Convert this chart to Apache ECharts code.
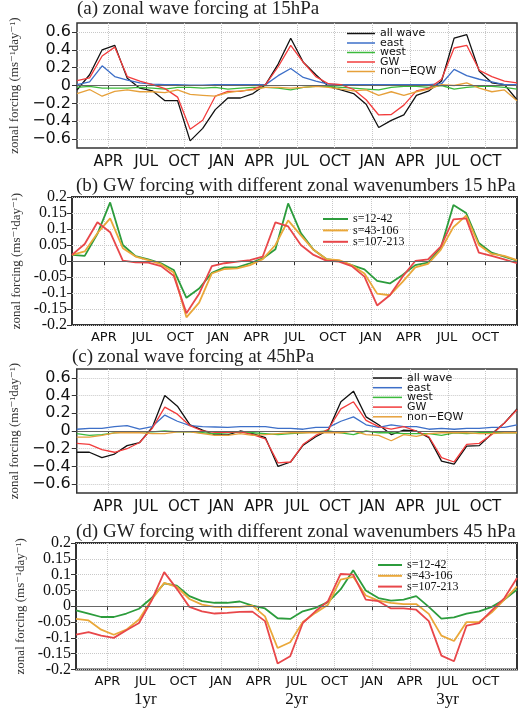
<!DOCTYPE html>
<html>
<head>
<meta charset="utf-8">
<script src="https://cdn.jsdelivr.net/npm/echarts@6/dist/echarts.min.js"></script>
<style>
  html, body { margin: 0; padding: 0; background: #fff; }
  #chart { width: 526px; height: 708px; }
</style>
</head>
<body>
<div id="chart"></div>
<script>
// month ticks (month index from Jan of year 1), data sit at mid-month
const tickMonths = [3, 6, 9, 12, 15, 18, 21, 24, 27, 30, 33]
const tickLabels = ["APR", "JUL", "OCT", "JAN", "APR", "JUL", "OCT", "JAN", "APR", "JUL", "OCT"]
const yearTicks = [6, 18, 30]
const yearLabels = ["1yr", "2yr", "3yr"]

const waveTicks = [-0.6, -0.4, -0.2, 0, 0.2, 0.4, 0.6]

// (a) zonal wave forcing at 15hPa
const a_all = [-0.05, 0.12, 0.40, 0.45, 0.08, -0.03, -0.06, -0.17, -0.17, -0.62, -0.48, -0.27, -0.14, -0.14, -0.09, 0.01, 0.24, 0.53, 0.26, 0.12, -0.01, -0.05, -0.09, -0.21, -0.47, -0.39, -0.33, -0.11, -0.06, 0.05, 0.53, 0.57, 0.16, 0.03, 0.01, -0.16]
const a_east = [0.01, 0.04, 0.22, 0.10, 0.06, 0.03, 0.015, 0.01, 0.01, 0.005, 0.005, 0.01, 0.01, 0.01, 0.01, 0.01, 0.11, 0.19, 0.09, 0.05, 0.015, 0.01, 0.01, 0.01, 0.01, 0.01, 0.01, 0.01, 0.01, 0.02, 0.18, 0.11, 0.07, 0.04, 0.01, 0.01]
const a_west = [-0.02, -0.01, -0.03, -0.03, -0.03, -0.02, -0.03, -0.04, -0.02, -0.02, -0.03, -0.02, -0.04, -0.03, -0.02, -0.02, -0.03, -0.05, -0.02, -0.01, -0.01, -0.02, -0.03, -0.04, -0.05, -0.02, -0.01, -0.01, -0.02, 0.0, -0.04, -0.02, -0.01, -0.01, -0.02, -0.04]
const a_gw = [0.055, 0.085, 0.33, 0.43, 0.10, 0.05, 0.01, -0.035, -0.13, -0.49, -0.39, -0.12, -0.065, -0.065, -0.04, 0.01, 0.21, 0.45, 0.26, 0.10, 0.02, 0.01, -0.045, -0.16, -0.33, -0.325, -0.22, -0.06, -0.03, 0.07, 0.42, 0.45, 0.17, 0.10, 0.05, 0.03]
const a_noneqw = [-0.09, -0.045, -0.12, -0.065, -0.05, -0.07, -0.07, -0.08, -0.05, -0.10, -0.11, -0.12, -0.08, -0.06, -0.05, -0.02, -0.02, -0.03, -0.02, -0.01, -0.02, -0.04, -0.06, -0.05, -0.11, -0.07, -0.11, -0.07, -0.04, 0.01, 0.0, 0.03, -0.03, -0.07, -0.05, -0.17]

// (b) GW forcing with different zonal wavenumbers 15 hPa
const b_s1 = [0.019, 0.016, 0.085, 0.183, 0.05, 0.015, 0.005, -0.007, -0.028, -0.115, -0.086, -0.037, -0.02, -0.02, -0.007, 0.008, 0.037, 0.18, 0.087, 0.035, 0.006, 0.0, -0.013, -0.026, -0.062, -0.07, -0.044, -0.013, -0.005, 0.04, 0.175, 0.15, 0.056, 0.026, 0.014, 0.001]
const b_s2 = [0.019, 0.03, 0.087, 0.133, 0.04, 0.014, 0.003, -0.01, -0.036, -0.176, -0.13, -0.039, -0.025, -0.023, -0.013, 0.006, 0.05, 0.127, 0.08, 0.035, 0.006, 0.003, -0.013, -0.039, -0.102, -0.107, -0.065, -0.02, -0.009, 0.035, 0.106, 0.142, 0.05, 0.022, 0.016, 0.003]
const b_s3 = [0.019, 0.053, 0.121, 0.09, 0.001, -0.004, -0.005, -0.016, -0.046, -0.163, -0.102, -0.016, -0.007, -0.002, 0.003, 0.014, 0.121, 0.108, 0.05, 0.019, 0.001, -0.002, -0.016, -0.049, -0.139, -0.107, -0.049, 0.0, 0.005, 0.045, 0.13, 0.133, 0.026, 0.016, 0.005, -0.007]

// (c) zonal wave forcing at 45hPa
const c_all = [-0.24, -0.24, -0.30, -0.26, -0.165, -0.13, 0.04, 0.40, 0.28, 0.07, 0.01, -0.045, -0.045, 0.0, -0.03, -0.075, -0.40, -0.35, -0.16, -0.065, 0.01, 0.33, 0.45, 0.16, 0.07, -0.04, 0.01, 0.0, -0.075, -0.34, -0.375, -0.17, -0.165, -0.03, 0.09, 0.25]
const c_east = [0.02, 0.03, 0.03, 0.05, 0.06, 0.02, 0.05, 0.18, 0.11, 0.06, 0.05, 0.045, 0.04, 0.05, 0.05, 0.05, 0.03, 0.03, 0.02, 0.04, 0.04, 0.11, 0.16, 0.07, 0.04, 0.07, 0.05, 0.05, 0.02, 0.03, 0.02, 0.03, 0.03, 0.04, 0.04, 0.07]
const c_west = [-0.03, -0.05, -0.04, -0.02, -0.01, -0.01, -0.01, 0.0, -0.01, -0.01, -0.02, -0.03, -0.02, -0.01, -0.02, -0.03, -0.04, -0.03, -0.02, -0.01, 0.0, -0.02, -0.04, 0.0, -0.02, -0.02, -0.03, -0.03, -0.03, -0.05, -0.02, -0.03, -0.02, -0.02, -0.02, -0.02]
const c_gw = [-0.14, -0.15, -0.21, -0.24, -0.20, -0.13, 0.03, 0.27, 0.19, 0.06, 0.0, -0.015, -0.015, -0.01, -0.04, -0.09, -0.36, -0.35, -0.15, -0.05, 0.02, 0.25, 0.33, 0.12, 0.05, 0.02, 0.05, 0.0, -0.065, -0.30, -0.35, -0.15, -0.14, -0.04, 0.09, 0.24]
const c_noneqw = [-0.07, -0.07, -0.05, -0.02, -0.02, -0.02, -0.03, -0.03, -0.01, -0.01, -0.03, -0.05, -0.05, -0.03, -0.05, -0.04, -0.03, -0.02, -0.02, -0.02, -0.02, -0.02, 0.0, -0.04, -0.05, -0.11, -0.04, -0.06, -0.03, -0.02, -0.02, -0.02, -0.03, -0.03, -0.02, -0.02]

// (d) GW forcing with different zonal wavenumbers 45 hPa
const d_s1 = [-0.013, -0.023, -0.034, -0.034, -0.023, -0.008, 0.026, 0.072, 0.065, 0.032, 0.016, 0.011, 0.011, 0.015, 0.002, -0.007, -0.038, -0.04, -0.016, -0.005, 0.013, 0.053, 0.114, 0.05, 0.026, 0.018, 0.021, 0.032, -0.002, -0.039, -0.035, -0.023, -0.016, -0.002, 0.021, 0.053]
const d_s2 = [-0.04, -0.045, -0.074, -0.09, -0.074, -0.042, 0.021, 0.074, 0.061, 0.023, 0.005, -0.002, -0.003, -0.002, 0.002, -0.032, -0.132, -0.114, -0.05, -0.021, 0.005, 0.084, 0.093, 0.034, 0.018, 0.011, 0.007, 0.007, -0.024, -0.093, -0.11, -0.05, -0.05, -0.019, 0.021, 0.063]
const d_s3 = [-0.09, -0.082, -0.093, -0.10, -0.076, -0.053, 0.018, 0.108, 0.055, -0.002, -0.016, -0.023, -0.021, -0.018, -0.017, -0.047, -0.181, -0.158, -0.053, -0.016, 0.016, 0.102, 0.10, 0.021, 0.016, -0.007, -0.007, -0.011, -0.047, -0.156, -0.174, -0.061, -0.053, -0.013, 0.026, 0.089]

const waveNames = ["all wave", "east", "west", "GW", "non\u2212EQW"]
const waveColors = ["#111111", "#3d6fc8", "#3cba3c", "#f23c3c", "#e6a03a"]
const sNames = ["s=12-42", "s=43-106", "s=107-213"]
const sColors = ["#2c9c3c", "#eaa83a", "#e8474a"]

const serif = "'Liberation Serif', 'DejaVu Serif', serif"
const sans = "'DejaVu Sans', sans-serif"

const grids = [
  { left: 77, top: 23, width: 440, height: 125 },
  { left: 72, top: 197, width: 445, height: 128 },
  { left: 72, top: 369, width: 445, height: 124 },
  { left: 76, top: 543, width: 441, height: 128 },
]

const toPoints = (arr) => arr.map((v, i) => [i + 0.5, v])

const zeroLine = {
  silent: true,
  symbol: "none",
  label: { show: false },
  lineStyle: { color: "#666", width: 1, type: "solid" },
  data: [{ yAxis: 0 }],
}

function xAxisFor(idx, small) {
  return {
    type: "value",
    gridIndex: idx,
    min: 0.5,
    max: 35.5,
    axisLine: { show: false },
    axisTick: {
      show: true,
      inside: false,
      length: 4,
      customValues: tickMonths,
      lineStyle: { color: "#333" },
    },
    axisLabel: {
      customValues: tickMonths,
      margin: small ? 6 : 7,
      color: "#111",
      fontFamily: sans,
      fontSize: small ? 13 : 15,
      formatter(v) {
        const k = tickMonths.indexOf(Math.round(v))
        const label = k >= 0 ? tickLabels[k] : ""
        if (idx === 3) {
          const y = yearTicks.indexOf(Math.round(v))
          if (y >= 0) return label + "\n{yr|" + yearLabels[y] + "}"
        }
        return label
      },
      rich: {
        yr: { fontFamily: serif, fontSize: 17, color: "#111", lineHeight: 18, padding: [4, 0, 0, 0] },
      },
    },
    splitLine: {
      show: true,
      lineStyle: { color: "#c8c8c8", type: "dotted", width: 1 },
    },
  }
}

const yName = "zonal forcing (ms\u207B\u00B9day\u207B\u00B9)"

function waveYAxis(idx) {
  return {
    type: "value",
    gridIndex: idx,
    min: -0.7,
    max: 0.7,
    name: yName,
    nameLocation: "middle",
    nameGap: 42,
    nameTextStyle: { fontFamily: serif, fontSize: 13, color: "#333" },
    axisLine: { show: false },
    axisTick: { show: true, length: 5, customValues: waveTicks, lineStyle: { color: "#333" } },
    axisLabel: {
      customValues: waveTicks,
      margin: 6,
      color: "#111",
      fontFamily: sans,
      fontSize: 16,
      formatter(v) {
        if (Math.abs(v) < 1e-9) return "0"
        return (v < 0 ? "\u2212" : "") + Math.abs(v).toFixed(1)
      },
    },
    splitLine: { show: true, lineStyle: { color: "#c8c8c8", type: "dotted", width: 1 } },
  }
}

function sYAxis(idx) {
  return {
    type: "value",
    gridIndex: idx,
    min: -0.2,
    max: 0.2,
    interval: 0.05,
    name: yName,
    nameLocation: "middle",
    nameGap: 42,
    nameTextStyle: { fontFamily: serif, fontSize: 13, color: "#333" },
    axisLine: { show: false },
    axisTick: { show: true, length: 5, lineStyle: { color: "#333" } },
    axisLabel: {
      margin: 5,
      color: "#111",
      fontFamily: serif,
      fontSize: 16,
      formatter(v) {
        return String(+v.toFixed(2))
      },
    },
    splitLine: { show: true, lineStyle: { color: "#c8c8c8", type: "dotted", width: 1 } },
  }
}

function lineSeries(name, color, data, idx, width, withZero) {
  const s = {
    name,
    type: "line",
    xAxisIndex: idx,
    yAxisIndex: idx,
    symbol: "none",
    smooth: false,
    lineStyle: { color, width },
    itemStyle: { color },
    data: toPoints(data),
    animation: false,
  }
  if (withZero) s.markLine = zeroLine
  return s
}

const series = []
;[a_all, a_east, a_west, a_gw, a_noneqw].forEach((d, k) =>
  series.push(lineSeries(waveNames[k], waveColors[k], d, 0, 1.3, k === 0)))
;[b_s1, b_s2, b_s3].forEach((d, k) =>
  series.push(lineSeries(sNames[k], sColors[k], d, 1, 1.8, k === 0)))
;[c_all, c_east, c_west, c_gw, c_noneqw].forEach((d, k) =>
  series.push(lineSeries(waveNames[k], waveColors[k], d, 2, 1.3, k === 0)))
;[d_s1, d_s2, d_s3].forEach((d, k) =>
  series.push(lineSeries(sNames[k], sColors[k], d, 3, 1.8, k === 0)))

function legendFor(names, left, top, gap, lineW, font, size, thick) {
  return {
    left,
    top,
    padding: 0,
    orient: "vertical",
    data: names,
    icon: "rect",
    itemWidth: lineW,
    itemHeight: thick,
    itemGap: gap,
    selectedMode: false,
    textStyle: { fontFamily: font, fontSize: size, color: "#111" },
  }
}

const chart = echarts.init(document.getElementById("chart"), null, { renderer: "canvas" })

const titleStyle = { fontFamily: serif, fontSize: 19, fontWeight: "normal", color: "#222" }

chart.setOption({
  backgroundColor: "#fff",
  animation: false,
  title: [
    { text: "(a) zonal wave forcing at 15hPa", left: 77, top: 0, padding: 0, textStyle: titleStyle },
    { text: "(b) GW forcing with different zonal wavenumbers 15 hPa", left: 76, top: 177, padding: 0, textStyle: titleStyle },
    { text: "(c) zonal wave forcing at 45hPa", left: 72, top: 348, padding: 0, textStyle: titleStyle },
    { text: "(d) GW forcing with different zonal wavenumbers 45 hPa", left: 76, top: 523, padding: 0, textStyle: titleStyle },
  ],
  legend: [
    legendFor(waveNames, 347, 28, -1.5, 28, sans, 11, 1.5),
    legendFor(sNames, 323, 213, -0.6, 25, serif, 12, 2),
    legendFor(waveNames, 373, 372.5, -1.3, 29, sans, 11, 1.5),
    legendFor(sNames, 378, 559, -1.2, 24, serif, 12, 2),
  ],
  grid: grids.map((g, i) => ({
    ...g,
    show: true,
    borderColor: "#333",
    borderWidth: i % 2 === 0 ? 1.5 : 2,
    backgroundColor: "transparent",
  })),
  xAxis: [xAxisFor(0, false), xAxisFor(1, true), xAxisFor(2, false), xAxisFor(3, true)],
  yAxis: [waveYAxis(0), sYAxis(1), waveYAxis(2), sYAxis(3)],
  series,
})
</script>
</body>
</html>
